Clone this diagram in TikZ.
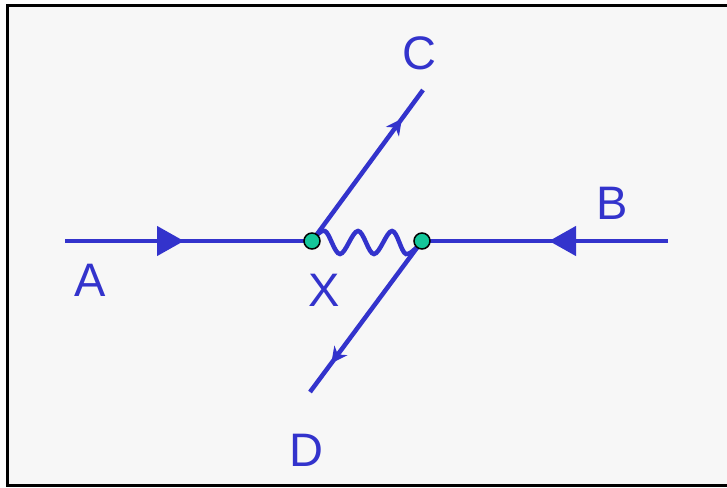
\documentclass[tikz,border=0pt]{standalone}
\usepackage{fontspec}
\setmainfont{Liberation Sans}
\usetikzlibrary{arrows.meta,decorations.markings}
\definecolor{LineBlue}{HTML}{3333CC}
\definecolor{VertexGreen}{HTML}{14C79A}
\definecolor{PanelGray}{HTML}{F7F7F7}

\begin{document}
\begin{tikzpicture}[x=1pt, y=-1pt,
    prop/.style={line width=4.5pt, LineBlue},
    vertex/.style={circle, draw=black, line width=1.5pt, fill=VertexGreen,
      minimum size=16pt, inner sep=0pt},
    lbl/.style={LineBlue, font=\fontsize{47}{50}\selectfont},
    bigarrow/.style={postaction={decorate}, decoration={markings,
      mark=at position 119pt with {\arrow{Triangle[length=27pt,width=29pt]}}}},
    smallarrow/.style={postaction={decorate}, decoration={markings,
      mark=at position 0.81 with {\arrow{Stealth[length=16pt,width=16pt,inset=5pt]}}}}]
        \useasboundingbox (0,0) rectangle (727,487);
        \clip (0,0) rectangle (727,487);
        % frame
        \fill[white] (0,0) rectangle (727,487);
        \draw[line width=3pt, fill=PanelGray] (7.5,5.5) rectangle (740,485.5);
        % end points and vertices
        \coordinate (a) at (65,241);
        \coordinate (b) at (668,241);
        \coordinate (c) at (423,90);
        \coordinate (d) at (310,392);
        \coordinate (x1) at (312,241);
        \coordinate (x2) at (422,241);
        % incoming and outgoing lines
        \draw[prop, bigarrow] (a) -- (x1);
        \draw[prop, bigarrow] (b) -- (x2);
        \draw[prop, smallarrow] (x1) -- (c);
        \draw[prop, smallarrow] (x2) -- (d);
        % exchanged wave
        \draw[prop, line cap=round] plot[smooth, tension=0.6] coordinates
          {(x1) (325,231) (340,254) (358,231) (374,254) (392,231) (406,254) (x2)};
        \node[vertex] (x1dot) at (x1) {};
        \node[vertex] (x2dot) at (x2) {};
        % labels
        \node[lbl] (la) at (90,280) {A};
        \node[lbl] (lb) at (612,203) {B};
        \node[lbl] (lc) at (419,53) {C};
        \node[lbl] (ld) at (306,450) {D};
        \node[lbl] (lx) at (324,290) {X};
      \end{tikzpicture}
\end{document}
